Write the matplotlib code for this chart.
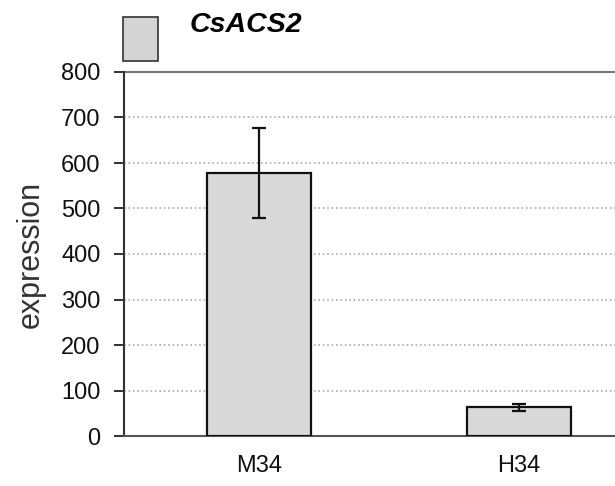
import matplotlib
matplotlib.use("Agg")
from matplotlib import pyplot as plt
from matplotlib.patches import Rectangle

plt.rcParams['font.family'] = ['Liberation Sans', 'DejaVu Sans']

categories = ['M34', 'H34']
expression = [578, 63]
errors = [98, 8]
gene_name = 'CsACS2'
y_ticks = [0, 100, 200, 300, 400, 500, 600, 700, 800]

fig = plt.figure(figsize=(6.15, 4.86), dpi=100)
# plot area runs off the right edge, like the cropped original
ax = fig.add_axes([124/615, 1 - 436/486, (615 - 124)/615, (436 - 72)/486])

x = list(range(len(categories)))
ax.bar(x, expression, width=0.4, color='#d9d9d9', edgecolor='#111111', linewidth=1.6,
       yerr=errors, capsize=5, error_kw=dict(ecolor='#111111', elinewidth=1.6, capthick=1.6),
       zorder=3)

ax.set_ylim(0, 800)
ax.set_xlim(-0.52, 1.37)
ax.set_yticks(y_ticks)
ax.set_xticks(x)
ax.set_xticklabels(categories)
ax.tick_params(axis='y', labelsize=17, length=7, width=1.2, pad=10, colors='#111111')
ax.tick_params(axis='x', labelsize=17, length=0, pad=14, colors='#111111')
ax.set_ylabel('expression', fontsize=22, color='#333333', labelpad=11)

ax.grid(axis='y', linestyle=':', color='#aaaaaa', linewidth=1.2, zorder=0)
ax.axhline(800, color='#777777', linewidth=1.5, zorder=2, clip_on=False)
for s in ['top', 'right']:
    ax.spines[s].set_visible(False)
ax.spines['left'].set_linewidth(1.5)
ax.spines['left'].set_color('#333333')
ax.spines['bottom'].set_linewidth(1.5)
ax.spines['bottom'].set_color('#555555')

# legend: grey square and gene name
fig.patches.append(Rectangle((123/615, 1 - 61/486), 35/615, 44/486, transform=fig.transFigure,
                             facecolor='#d4d4d4', edgecolor='#333333', linewidth=1.2))
fig.text(190/615, 1 - 25/486, gene_name, fontsize=20.5, fontweight='bold', fontstyle='italic',
         va='center', ha='left')

fig.savefig('out.png', dpi=100)
